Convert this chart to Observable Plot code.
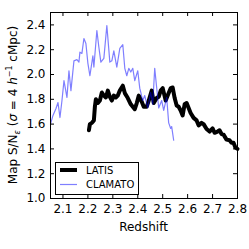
<!DOCTYPE html>
<html><head><meta charset="utf-8">
<script src="https://cdn.jsdelivr.net/npm/d3@7"></script>
<script src="https://cdn.jsdelivr.net/npm/@observablehq/plot@0.6"></script>
<style>html,body{margin:0;padding:0;background:#fff}</style>
</head><body><div id="chart"></div>
<script>
const seriesNames = ["LATIS", "CLAMATO"];
const xTicks = [2.1, 2.2, 2.3, 2.4, 2.5, 2.6, 2.7, 2.8];
const yTicks = [1.0, 1.2, 1.4, 1.6, 1.8, 2.0, 2.2, 2.4];

const latisZ = [2.204,2.208,2.216,2.224,2.228,2.232,2.24,2.248,2.256,2.264,2.272,2.28,2.288,2.296,2.304,2.312,2.32,2.328,2.34,2.348,2.36,2.372,2.388,2.396,2.404,2.416,2.424,2.436,2.444,2.456,2.464,2.476,2.484,2.492,2.50,2.512,2.524,2.532,2.54,2.548,2.556,2.564,2.572,2.58,2.588,2.596,2.604,2.612,2.624,2.636,2.644,2.656,2.664,2.676,2.688,2.70,2.708,2.72,2.728,2.736,2.744,2.756,2.768,2.776,2.784,2.792,2.80];
const latisSN = [1.55,1.60,1.61,1.63,1.74,1.80,1.77,1.79,1.855,1.83,1.815,1.87,1.82,1.79,1.83,1.815,1.83,1.87,1.91,1.85,1.81,1.76,1.72,1.77,1.83,1.78,1.74,1.74,1.79,1.87,1.77,1.81,1.82,1.87,1.89,1.79,1.85,1.89,1.895,1.81,1.75,1.74,1.71,1.67,1.76,1.77,1.73,1.69,1.65,1.63,1.59,1.61,1.60,1.56,1.54,1.565,1.53,1.54,1.55,1.52,1.515,1.475,1.47,1.45,1.45,1.41,1.40];

const clamatoZ = [2.05,2.06,2.072,2.08,2.088,2.096,2.104,2.116,2.124,2.132,2.144,2.156,2.164,2.168,2.176,2.184,2.192,2.20,2.208,2.22,2.224,2.236,2.244,2.252,2.264,2.276,2.288,2.296,2.304,2.316,2.328,2.34,2.348,2.356,2.364,2.372,2.38,2.388,2.40,2.408,2.42,2.428,2.44,2.452,2.46,2.468,2.48,2.484,2.496,2.504,2.516,2.524,2.532,2.536,2.544];
const clamatoSN = [1.60,1.67,1.726,1.774,1.653,1.79,1.95,1.815,2.03,1.87,2.11,2.12,2.10,2.18,2.17,2.29,2.25,2.09,1.99,2.15,2.06,2.355,2.22,2.10,2.13,2.395,2.10,2.11,2.19,2.06,2.21,2.24,2.05,1.99,2.05,2.02,2.05,1.95,2.03,1.89,1.79,1.83,1.73,1.855,1.76,2.05,1.81,1.73,1.79,1.71,1.815,1.61,1.565,1.58,1.47];

const latis = latisZ.map((z, i) => ({z, v: latisSN[i]}));
const clamato = clamatoZ.map((z, i) => ({z, v: clamatoSN[i]}));

const W = 249, H = 249, mL = 50, mR = 12, mT = 12, mB = 51;
const fw = W - mL - mR, fh = H - mT - mB;
const tl = 4;
const font = "'DejaVu Sans', sans-serif";

const chart = Plot.plot({
  width: W, height: H,
  marginLeft: mL, marginRight: mR, marginTop: mT, marginBottom: mB,
  style: {fontFamily: font, fontSize: "12px", background: "white", color: "black", overflow: "visible"},
  x: {domain: [2.05, 2.8]},
  y: {domain: [1.0, 2.5]},
  marks: [
    Plot.line(latis, {x: "z", y: "v", stroke: "black", strokeWidth: 4, strokeLinejoin: "round"}),
    Plot.line(clamato, {x: "z", y: "v", stroke: "blue", strokeOpacity: 0.5, strokeWidth: 1.2}),
    Plot.tickX(xTicks, {x: d => d, insetTop: fh - tl, stroke: "black"}),
    Plot.tickX(xTicks, {x: d => d, insetBottom: fh - tl, stroke: "black"}),
    Plot.tickY(yTicks, {y: d => d, insetRight: fw - tl, stroke: "black"}),
    Plot.tickY(yTicks, {y: d => d, insetLeft: fw - tl, stroke: "black"}),
    Plot.axisX({ticks: xTicks, tickSize: 0, tickPadding: 6, tickFormat: ".1f", label: null}),
    Plot.axisY({ticks: yTicks, tickSize: 0, tickPadding: 5, tickFormat: ".1f", label: null}),
    Plot.frame({stroke: "black"})
  ]
});
document.getElementById("chart").appendChild(chart);

const svg = d3.select(chart);
// x label
svg.append("text").attr("x", mL + fw / 2).attr("y", 231)
  .attr("text-anchor", "middle").attr("font-family", font).attr("font-size", 12)
  .text("Redshift");
// y label
const yl = svg.append("text").attr("transform", `translate(16.5,${mT + fh / 2}) rotate(-90)`)
  .attr("text-anchor", "middle").attr("font-family", font).attr("font-size", 12);
yl.append("tspan").text("Map S/N");
yl.append("tspan").attr("font-size", 8).attr("dy", 3).attr("font-style", "italic").text("ε");
yl.append("tspan").attr("dy", -3).text(" (");
yl.append("tspan").attr("font-style", "italic").text("σ");
yl.append("tspan").text(" = 4 ");
yl.append("tspan").attr("font-style", "italic").text("h");
yl.append("tspan").attr("font-size", 8).attr("dy", -5).text("−1");
yl.append("tspan").attr("dy", 5).text(" cMpc)");

// legend
const lg = svg.append("g");
lg.append("rect").attr("x", 55.5).attr("y", 162.5).attr("width", 83).attr("height", 32)
  .attr("fill", "white").attr("stroke", "black");
const colors = [{stroke: "black", w: 4, op: 1}, {stroke: "blue", w: 1.2, op: 0.5}];
const ys = [170, 184.5];
seriesNames.forEach((name, i) => {
  lg.append("line").attr("x1", 60).attr("x2", 77).attr("y1", ys[i]).attr("y2", ys[i])
    .attr("stroke", colors[i].stroke).attr("stroke-width", colors[i].w).attr("stroke-opacity", colors[i].op);
  lg.append("text").attr("x", 86).attr("y", ys[i]).attr("dy", "0.35em")
    .attr("text-anchor", "start")
    .attr("font-family", font).attr("font-size", 10).text(name);
});
</script>
</body></html>
